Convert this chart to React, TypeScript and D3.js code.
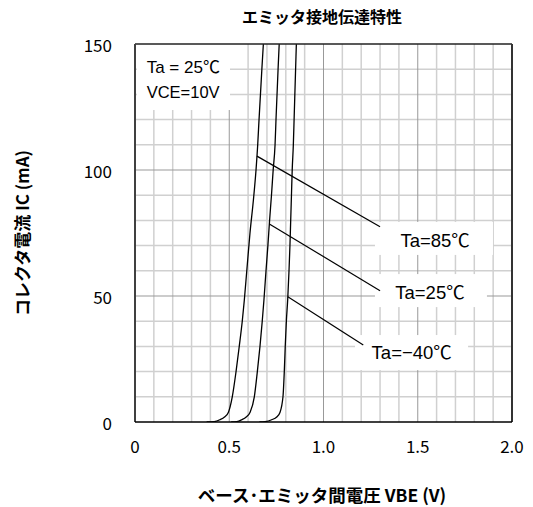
import * as d3 from "d3";

// axis ticks
const vbeTicks = [0, 0.5, 1.0, 1.5, 2.0];
const icTicks = [0, 50, 100, 150];

// measured curves: [VBE (V), IC (mA)]
const curve85: [number, number][] = [
  [0.38, 0], [0.42, 0.15], [0.45, 0.9], [0.475, 2], [0.495, 3.8], [0.516, 10], [0.536, 20],
  [0.553, 30], [0.569, 40], [0.58, 48.4], [0.593, 60], [0.61, 75], [0.628, 88], [0.642, 100],
  [0.651, 110], [0.658, 120], [0.673, 140], [0.681, 150],
];
const curve25: [number, number][] = [
  [0.51, 0], [0.54, 0.15], [0.566, 0.9], [0.59, 2], [0.61, 3.8], [0.633, 10], [0.649, 20],
  [0.663, 30], [0.675, 40], [0.684, 48.4], [0.695, 60], [0.705, 70], [0.714, 80], [0.724, 90],
  [0.733, 100], [0.743, 110], [0.748, 120], [0.759, 140], [0.765, 150],
];
const curveM40: [number, number][] = [
  [0.66, 0], [0.69, 0.15], [0.725, 0.9], [0.752, 2], [0.769, 3.8], [0.785, 10], [0.792, 20],
  [0.797, 30], [0.803, 40], [0.81, 48.4], [0.817, 60], [0.822, 70], [0.826, 80], [0.83, 90],
  [0.834, 100], [0.84, 110], [0.844, 120], [0.852, 140], [0.856, 150],
];

const seriesLabels = ["Ta=85℃", "Ta=25℃", "Ta=−40℃"];
const seriesCurves = [curve85, curve25, curveM40];
// where each leader line touches its curve (mA)
const anchorIc = [105.5, 78.6, 49.7];

const W = 533;
const H = 507;
const left = 135;
const right = 512;
const top = 44;
const bottom = 422;

const x = d3.scaleLinear().domain([0, 2]).range([left, right]);
const y = d3.scaleLinear().domain([0, 150]).range([bottom, top]);

// leader line ends, label centres and label boxes in data units
const annotations = [
  { end: [1.3, 77.5], text: [1.592, 71.9], box: [1.273, 1.899, 79.4, 66.3] },
  { end: [1.3, 52.1], text: [1.565, 51.3], box: [1.273, 1.867, 58.7, 45.6] },
  { end: [1.211, 30.6], text: [1.468, 27.4], box: [1.167, 1.767, 34.5, 20.6] },
];

function vAt(curve: [number, number][], ic: number) {
  for (let i = 1; i < curve.length; i++) {
    const [v0, i0] = curve[i - 1];
    const [v1, i1] = curve[i];
    if (ic >= i0 && ic <= i1) return v0 + ((ic - i0) / (i1 - i0)) * (v1 - v0);
  }
  return curve[curve.length - 1][0];
}

const font = "'Noto Sans CJK JP', 'Noto Sans', sans-serif";
const labelFont = "'Liberation Sans', 'Noto Sans CJK JP', sans-serif";

export default function App() {
  const line = d3
    .line<[number, number]>()
    .x((d) => x(d[0]))
    .y((d) => y(d[1]))
    .curve(d3.curveMonotoneX);

  const minorX = d3.range(1, 20).map((i) => i / 10).filter((v) => Math.round(v * 10) % 5 !== 0);
  const majorX = [0.5, 1.0, 1.5];
  const minorY = d3.range(10, 150, 10).filter((v) => v % 50 !== 0);
  const majorY = [50, 100];

  return (
    <svg
      width={W}
      height={H}
      style={{ position: "absolute", left: 0, top: 0, background: "#fff" }}
      fontFamily={font}
    >
      <defs>
        <clipPath id="plot">
          <rect x={left} y={top} width={right - left} height={bottom - top} />
        </clipPath>
      </defs>

      {/* grid */}
      {minorX.map((v) => (
        <line key={"mx" + v} x1={x(v)} x2={x(v)} y1={top} y2={bottom} stroke="#d0d0d0" strokeWidth={1.5} />
      ))}
      {minorY.map((v) => (
        <line key={"my" + v} x1={left} x2={right} y1={y(v)} y2={y(v)} stroke="#d0d0d0" strokeWidth={1.5} />
      ))}
      {majorX.map((v) => (
        <line key={"Mx" + v} x1={x(v)} x2={x(v)} y1={top} y2={bottom} stroke="#999" strokeWidth={1} />
      ))}
      {majorY.map((v) => (
        <line key={"My" + v} x1={left} x2={right} y1={y(v)} y2={y(v)} stroke="#999" strokeWidth={1} />
      ))}

      {/* condition box */}
      <rect x={x(0.01)} y={y(150)} width={x(0.504) - x(0.01)} height={y(123.8) - y(150)} fill="#fff" />
      <text x={x(0.062)} y={y(140.9)} dy="0.35em" fontSize={17} fontFamily={labelFont} fill="#000">
        Ta = 25℃
      </text>
      <text x={x(0.062)} y={y(131)} dy="0.35em" fontSize={16.5} fontFamily={labelFont} fill="#000">
        VCE=10V
      </text>

      {/* label boxes */}
      {annotations.map((a, i) => (
        <rect
          key={"b" + i}
          x={x(a.box[0])}
          y={y(a.box[2])}
          width={x(a.box[1]) - x(a.box[0])}
          height={y(a.box[3]) - y(a.box[2])}
          fill="#fff"
        />
      ))}

      {/* curves */}
      <g clipPath="url(#plot)">
        {seriesCurves.map((c, i) => (
          <path key={"c" + i} d={line(c) ?? ""} fill="none" stroke="#000" strokeWidth={1.3} />
        ))}
      </g>

      {/* leader lines and labels */}
      {annotations.map((a, i) => {
        const ic = anchorIc[i];
        const v = vAt(seriesCurves[i], ic);
        return (
          <g key={"a" + i}>
            <line x1={x(v)} y1={y(ic)} x2={x(a.end[0])} y2={y(a.end[1])} stroke="#000" strokeWidth={1.2} />
            <text
              x={x(a.text[0])}
              y={y(a.text[1])}
              dy="0.35em"
              textAnchor="middle"
              fontSize={18.5}
              fontFamily={labelFont}
              fill="#000"
            >
              {seriesLabels[i]}
            </text>
          </g>
        );
      })}

      {/* frame */}
      <line x1={left} x2={right} y1={top} y2={top} stroke="#222" strokeWidth={1.5} />
      <line x1={right} x2={right} y1={top} y2={bottom} stroke="#333" strokeWidth={2} />
      <line x1={left} x2={left} y1={top} y2={bottom} stroke="#404040" strokeWidth={2} />
      <line x1={left} x2={right} y1={bottom} y2={bottom} stroke="#000" strokeWidth={1.5} />

      {/* tick labels */}
      {vbeTicks.map((v) => (
        <text key={"xt" + v} x={x(v)} y={447} dy="0.35em" textAnchor="middle" fontSize={17} fill="#000">
          {v === 0 ? "0" : v.toFixed(1)}
        </text>
      ))}
      {icTicks.map((v) => (
        <text key={"yt" + v} x={left - 23} y={y(v) + 2} dy="0.35em" textAnchor="end" fontSize={17} fill="#000">
          {v}
        </text>
      ))}

      {/* titles */}
      <text x={322} y={17} dy="0.35em" textAnchor="middle" fontSize={16} fontWeight="bold" fill="#000">
        エミッタ接地伝達特性
      </text>
      <text x={322} y={496} dy="0.35em" textAnchor="middle" fontSize={17.5} fontWeight="bold" fill="#000">
        ベース･エミッタ間電圧 VBE (V)
      </text>
      <text
        transform={`translate(23,${(top + bottom) / 2}) rotate(-90)`}
        dy="0.35em"
        textAnchor="middle"
        fontSize={17}
        fontWeight="bold"
        fill="#000"
      >
        コレクタ電流 IC (mA)
      </text>
    </svg>
  );
}
